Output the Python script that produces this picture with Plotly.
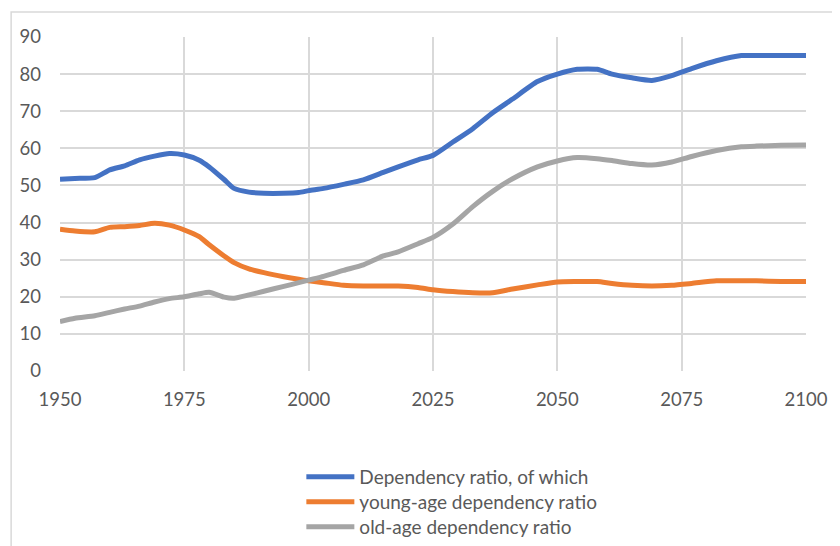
import plotly.graph_objects as go

years = [1950, 1953, 1957, 1960, 1963, 1966, 1969, 1972, 1975, 1978, 1980, 1983, 1985,
         1988, 1991, 1995, 1998, 2000, 2003, 2007, 2011, 2015, 2018, 2022, 2025, 2029,
         2033, 2037, 2041, 2046, 2050, 2054, 2058, 2061, 2065, 2069, 2073, 2077, 2082,
         2087, 2090, 2095, 2100]

total_ratio = [51.7, 51.9, 52.1, 54.2, 55.3, 56.9, 57.9, 58.6, 58.2, 56.8, 55.0, 51.6, 49.2,
               48.2, 47.9, 47.9, 48.1, 48.6, 49.2, 50.3, 51.5, 53.5, 55.0, 56.9, 58.1, 61.7,
               65.3, 69.6, 73.3, 78.0, 80.0, 81.3, 81.3, 80.0, 79.0, 78.3, 79.6, 81.5, 83.6,
               85.0, 85.0, 85.0, 85.0]

young_ratio = [38.2, 37.7, 37.5, 38.7, 38.9, 39.2, 39.8, 39.3, 38.0, 36.2, 34.0, 31.0, 29.2,
               27.5, 26.5, 25.4, 24.7, 24.3, 23.8, 23.1, 22.9, 22.9, 22.9, 22.5, 21.9, 21.4,
               21.1, 21.1, 22.1, 23.2, 24.0, 24.1, 24.1, 23.6, 23.1, 22.9, 23.1, 23.6, 24.3,
               24.3, 24.3, 24.1, 24.1]

old_ratio = [13.3, 14.2, 14.9, 15.8, 16.7, 17.5, 18.6, 19.5, 20.0, 20.8, 21.2, 19.9, 19.6,
             20.5, 21.5, 22.8, 23.8, 24.5, 25.5, 27.1, 28.6, 31.0, 32.1, 34.3, 36.0, 39.6,
             44.3, 48.4, 51.8, 55.0, 56.6, 57.5, 57.2, 56.7, 55.9, 55.5, 56.3, 57.8, 59.4,
             60.4, 60.6, 60.8, 60.9]

series_names = ["Dependency ratio, of which", "young-age dependency ratio", "old-age dependency ratio"]
series_colors = ["#4472C4", "#ED7D31", "#A5A5A5"]

x_ticks = [1950, 1975, 2000, 2025, 2050, 2075, 2100]
y_ticks = [0, 10, 20, 30, 40, 50, 60, 70, 80, 90]

# the page body adds an 8px margin, so the figure is sized/offset to compensate
W, H = 832, 580
L, R, T = 52, 32, 29
PLOT_BOTTOM = 363
B = H - PLOT_BOTTOM
PW, PH = W - L - R, H - T - B

legend_ids = ["legend", "legend2", "legend3"]
legend_rows = [469, 494, 519]  # row centres in figure pixels

fig = go.Figure()
for name, vals, col, lid in zip(series_names, [total_ratio, young_ratio, old_ratio],
                                series_colors, legend_ids):
    fig.add_trace(go.Scatter(
        x=years, y=vals, name=name, mode="lines", legend=lid,
        line=dict(color=col, width=5, shape="spline", smoothing=0.6),
    ))

font_family = "Lato, 'Liberation Sans', sans-serif"
legend_cfg = {}
for lid, row in zip(legend_ids, legend_rows):
    legend_cfg[lid] = dict(
        x=(294 - L) / PW, y=-(row - PLOT_BOTTOM) / PH, xanchor="left", yanchor="middle",
        font=dict(family=font_family, size=19, color="#595959"),
        bgcolor="rgba(0,0,0,0)", itemwidth=48,
    )

fig.update_layout(
    width=W, height=H,
    margin=dict(l=L, r=R, t=T, b=B),
    paper_bgcolor="white", plot_bgcolor="white",
    font=dict(family=font_family, size=18.5, color="#595959"),
    showlegend=True,
    shapes=[dict(
        type="rect", xref="paper", yref="paper",
        x0=(3 - L) / PW, x1=2.0, y0=-2.0, y1=1 + (T - 4) / PH,
        line=dict(color="#d9d9d9", width=1.5), fillcolor="rgba(0,0,0,0)", layer="below",
    )],
    **legend_cfg,
)
fig.update_xaxes(
    range=[1950, 2100], tickvals=x_ticks, ticktext=[str(t) for t in x_ticks],
    showgrid=True, gridcolor="#d9d9d9", gridwidth=1.5,
    zeroline=False, showline=False, ticks="", ticklabelstandoff=15,
    tickfont=dict(size=18.5, color="#595959"),
)
fig.update_yaxes(
    range=[0, 90], tickvals=y_ticks, ticktext=[str(t) for t in y_ticks],
    showgrid=True, gridcolor="#d9d9d9", gridwidth=1.5,
    zeroline=False, showline=False, ticks="", ticklabelstandoff=18,
    tickfont=dict(size=18.5, color="#595959"),
)

fig.write_html("out.html")
